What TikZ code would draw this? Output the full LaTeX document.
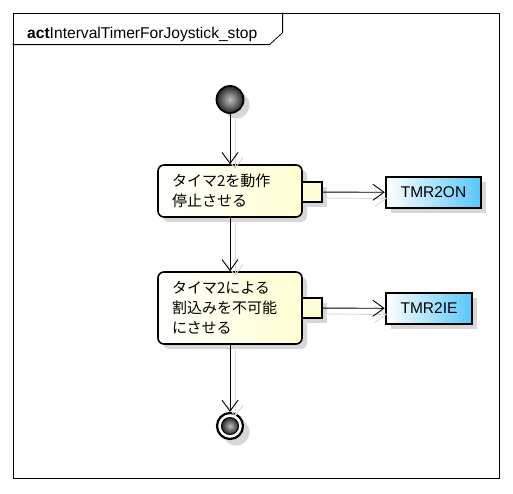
\documentclass[tikz,border=0pt]{standalone}
\usepackage{fontspec}
\setmainfont{Liberation Sans}
\newfontfamily\jp{Noto Sans CJK JP}
\usetikzlibrary{arrows.meta,shadows,shapes.misc}
\definecolor{pinfill}{RGB}{254,254,214}
\definecolor{actfill}{RGB}{255,255,210}
\definecolor{objblue}{RGB}{88,198,250}
\definecolor{shd}{RGB}{215,215,215}
\begin{document}
\begin{tikzpicture}[x=1pt,y=-1pt,
  sh/.style={drop shadow={shadow xshift=5pt,shadow yshift=-5pt,fill=shd,opacity=1}},
  action/.style={draw,line width=1.6pt,rounded corners=6pt,left color=white,right color=actfill,
    text width=116pt,inner xsep=14pt,align=left,font=\jp\fontsize{15}{20}\selectfont,sh},
  pin/.style={draw,line width=1.6pt,fill=pinfill,minimum size=20pt,inner sep=0pt,sh},
  obj/.style={draw,line width=2.6pt,left color=white,right color=objblue,minimum height=31pt,inner sep=0pt,
    font=\fontsize{15.5}{18}\selectfont,sh},
  flow/.style={line width=0.9pt,-{Straight Barb[length=11pt,width=16pt,line width=0.9pt]}},
  flowsh/.style={line width=0.9pt,draw=shd,-{Straight Barb[length=11pt,width=16pt,line width=0.9pt]}}
]
\useasboundingbox (0,0) rectangle (513,493);
% frame
\node[draw,line width=0.8pt,minimum width=486pt,minimum height=465pt,inner sep=0pt] (frame) at (256,245.5) {};
\draw[line width=0.8pt] (frame.north west) ++(0,32) -- ++(257,0) -- ++(13,-12) -- ++(0,-20);
\node[anchor=base west,inner sep=0pt,font=\fontsize{15.6}{18}\selectfont] (title) at (27,38) {\textbf{act}IntervalTimerForJoystick\_stop};
% initial
\fill[shd] (236,105) circle (13.5);
\node[circle,draw,line width=1.8pt,minimum size=27pt,inner sep=0pt,inner color=gray!50,outer color=black!85] (init) at (230,99.5) {};
% actions
\node[action,minimum height=52pt] (a1) at (230,191) {タイマ2を動作\\停止させる};
\node[action,minimum height=72pt] (a2) at (230,308) {タイマ2による\\割込みを不可能\\にさせる};
% pins
\node[pin] (p1) at (312,192) {};
\node[pin] (p2) at (312,308) {};
% objects
\node[obj,minimum width=95pt] (o1) at (433.5,192.5) {TMR2ON};
\node[obj,minimum width=86pt] (o2) at (429,308.5) {TMR2IE};
% final
\fill[shd] (236,432) circle (13.5);
\node[circle,draw,line width=2.2pt,fill=white,minimum size=26pt,inner sep=0pt] (fin) at (230,426) {};
\shade[inner color=gray!50,outer color=black!85] (fin.center) circle (8.5);
\draw[line width=1pt] (fin.center) circle (8.5);
% connector shadows
\draw[flowsh] ([xshift=5pt,yshift=-5pt]init.south) -- ([xshift=5pt,yshift=-5pt]a1.north);
\draw[flowsh] ([xshift=5pt,yshift=-5pt]a1.south) -- ([xshift=5pt,yshift=-5pt]a2.north);
\draw[flowsh] ([xshift=5pt,yshift=-5pt]a2.south) -- ([xshift=5pt,yshift=-5pt]fin.north);
\draw[flowsh] ([xshift=2pt,yshift=-6pt]p1.east) -- ([xshift=2pt,yshift=-6pt]o1.west);
\draw[flowsh] ([xshift=2pt,yshift=-6pt]p2.east) -- ([xshift=2pt,yshift=-6pt]o2.west);
% connectors
\draw[flow] (init) -- (a1);
\draw[flow] (a1) -- (a2);
\draw[flow] (a2) -- (fin);
\draw[flow] (p1) -- (o1);
\draw[flow] (p2) -- (o2);
\end{tikzpicture}
\end{document}
